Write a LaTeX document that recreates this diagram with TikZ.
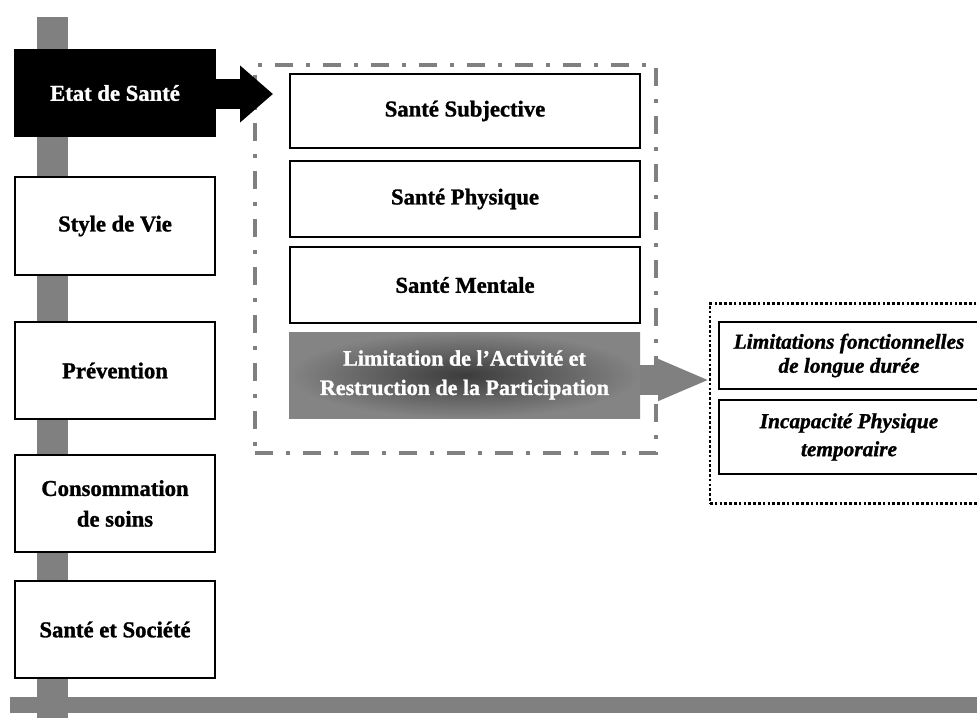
\documentclass[tikz,border=0pt]{standalone}
\usepackage{fontspec}
\setmainfont{Liberation Serif}[BoldFeatures={FakeBold=1.2},BoldItalicFeatures={FakeBold=1.2}]
\usetikzlibrary{arrows.meta}
\definecolor{bargray}{HTML}{808080}
\begin{document}
\begin{tikzpicture}[x=0.75pt,y=-0.75pt,
  lbox/.style={draw=black, line width=1.1pt, fill=white, inner sep=0pt, outer sep=0pt,
     minimum width=150pt, minimum height=72.75pt, align=center,
     font=\fontsize{17}{23}\selectfont\bfseries},
  mbox/.style={draw=black, line width=1.1pt, fill=white, inner sep=0pt, outer sep=0pt,
     minimum width=262.5pt, align=center,
     font=\fontsize{17}{22}\selectfont\bfseries},
  rbox/.style={draw=black, line width=1.1pt, fill=white, inner sep=0pt, outer sep=0pt,
     minimum width=195pt, align=center},
  dashdotgrp/.style={draw=bargray, line width=3pt, inner sep=0pt, outer sep=0pt,
     dash pattern=on 13.5pt off 9.75pt on 3pt off 9.75pt},
  dottedgrp/.style={draw=black, line width=2pt, inner sep=0pt, outer sep=0pt,
     dash pattern=on 2pt off 1.6pt},
  blackarrow/.style={draw=black, line width=21.75pt,
     -{Triangle[length=24.75pt,width=41.25pt]}},
  grayarrow/.style={draw=bargray, line width=22.5pt,
     -{Triangle[length=39pt,width=28.5pt]}}
]
\useasboundingbox (0,0) rectangle (977,717);
\clip (0,0) rectangle (977,717);
\fill[white] (0,0) rectangle (977,717);

% gray bars
\fill[bargray] (37,17) rectangle (68,720);
\fill[bargray] (10,697) rectangle (980,713);

% left boxes
\node[lbox, fill=black, text=white, minimum height=64.5pt] (etat) at (115,93) {Etat de Santé};
\node[lbox, minimum height=73.5pt] (style) at (115,226) {Style de Vie};
\node[lbox] (prev) at (115,370.5) {Prévention};
\node[lbox] (conso) at (115,503.5) {Consommation\\de soins};
\node[lbox] (soc) at (115,629.5) {Santé et Société};

% dash-dot group
\node[dashdotgrp, minimum width=300.75pt, minimum height=291pt] (grp) at (455.5,259) {};

% middle boxes
\node[mbox, minimum height=55.5pt] (subj) at (465,111) {Santé Subjective};
\node[mbox, minimum height=57pt] (phys) at (465,199) {Santé Physique};
\node[mbox, minimum height=57pt] (ment) at (465,285) {Santé Mentale};
\node[draw=none, inner sep=0pt, outer sep=0pt, minimum width=263.25pt, minimum height=64.5pt,
   inner color={rgb,255:red,60;green,60;blue,60}, outer color={rgb,255:red,132;green,132;blue,132},
   text=white, align=center, font=\fontsize{16.5}{22}\selectfont\bfseries]
   (lim) at (464.5,375) {Limitation de l’Activité et\\Restruction de la Participation};

% black arrow
\coordinate (tip1) at (273,94);
\draw[blackarrow] (etat.east |- tip1) -- (tip1);

% dotted group
\node[dottedgrp, minimum width=217.5pt, minimum height=150pt] (rgrp) at (855,403.5) {};

% right boxes
\node[rbox, minimum height=50.25pt, font=\fontsize{16}{18}\selectfont\bfseries\itshape] (lf) at (849,355.5)
   {Limitations fonctionnelles\\de longue durée};
\node[rbox, minimum height=55.5pt, font=\fontsize{16}{21}\selectfont\bfseries\itshape] (ip) at (849,437)
   {Incapacité Physique\\temporaire};

% gray arrow
\coordinate (tip2) at (710,380);
\draw[grayarrow] (lim.east |- tip2) -- (tip2);
\end{tikzpicture}
\end{document}
